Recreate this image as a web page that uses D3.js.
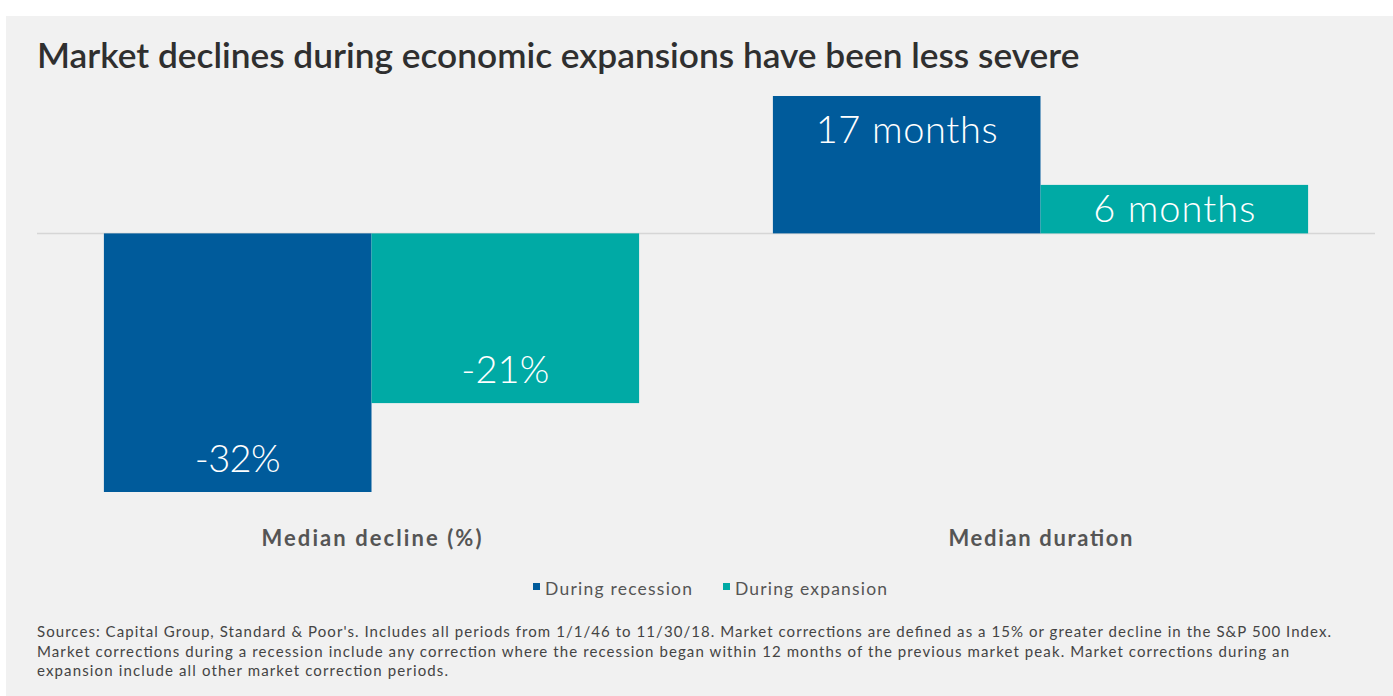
<!DOCTYPE html>
<html><head><meta charset="utf-8">
<script src="https://cdn.jsdelivr.net/npm/d3@7"></script>
<style>
html,body{margin:0;padding:0;background:#fff;}
svg{display:block;}
</style></head>
<body>
<svg id="chart" width="1393" height="696"></svg>
<script>
const title = "Market declines during economic expansions have been less severe";
const categories = ["Median decline (%)", "Median duration"];
const seriesNames = ["During recession", "During expansion"];
const recessionValues = [-32, 17];
const expansionValues = [-21, 6];
const valueLabels = [["-32%", "17 months"], ["-21%", "6 months"]];
const footnotes = [
  "Sources: Capital Group, Standard & Poor's. Includes all periods from 1/1/46 to 11/30/18. Market corrections are defined as a 15% or greater decline in the S&P 500 Index.",
  "Market corrections during a recession include any correction where the recession began within 12 months of the previous market peak. Market corrections during an",
  "expansion include all other market correction periods."
];
const colors = ["#005b9b", "#00aaa5"];

const svg = d3.select("#chart");
const font = "Lato, 'Open Sans', sans-serif";

// stretch text horizontally by spacing to a target width
function fitSpacing(sel, widthFn) {
  sel.each(function(d, i) {
    const w = widthFn(d, i);
    if (w) d3.select(this).attr("textLength", w).attr("lengthAdjust", "spacing");
  });
}

svg.append("rect").attr("x", 6).attr("y", 16).attr("width", 1393 - 6).attr("height", 696 - 16).attr("fill", "#f1f1f1");

svg.append("text").attr("x", 37).attr("y", 68).attr("font-family", font).attr("font-size", 30)
  .attr("fill", "#2f2f2f").attr("font-weight", 600).text(title)
  .each(function(){ const w = this.getComputedTextLength(); d3.select(this).attr("font-size", 30 * 1043 / w); });

const x0 = d3.scaleBand().domain(categories).range([37, 1375]).paddingInner(0.2).paddingOuter(0.1);
const x1 = d3.scaleBand().domain(seriesNames).range([0, x0.bandwidth()]);
const y = d3.scaleLinear().domain([-32, 17]).range([492, 96]);

const data = categories.map((c, i) => ({
  cat: c,
  vals: [
    {s: seriesNames[0], v: recessionValues[i], label: valueLabels[0][i], color: colors[0], w: [86, 182][i]},
    {s: seriesNames[1], v: expansionValues[i], label: valueLabels[1][i], color: colors[1], w: [88, 162][i]}
  ]
}));

// baseline
svg.append("line").attr("x1", 37).attr("x2", 1375).attr("y1", y(0)).attr("y2", y(0))
  .attr("stroke", "#d6d6d6").attr("stroke-width", 1.5);

const g = svg.selectAll("g.grp").data(data).enter().append("g")
  .attr("transform", d => `translate(${x0(d.cat)},0)`);

g.selectAll("rect").data(d => d.vals).enter().append("rect")
  .attr("x", d => x1(d.s)).attr("width", x1.bandwidth())
  .attr("y", d => Math.min(y(d.v), y(0))).attr("height", d => Math.abs(y(d.v) - y(0)))
  .attr("fill", d => d.color);

g.selectAll("text.vl").data(d => d.vals).enter().append("text").attr("class", "vl")
  .attr("x", d => x1(d.s) + x1.bandwidth() / 2)
  .attr("y", d => d.v < 0 ? y(d.v) - 20 : Math.min(y(d.v) + 47, y(0) - 11))
  .attr("text-anchor", "middle").attr("font-family", font).attr("font-weight", 300)
  .attr("font-size", 38).attr("fill", "#fff").text(d => d.label)
  .call(fitSpacing, d => d.w);

const catW = [220, 184];
svg.selectAll("text.cat").data(categories).enter().append("text").attr("class", "cat")
  .attr("x", d => x0(d) + x0.bandwidth() / 2).attr("y", 546)
  .attr("text-anchor", "middle").attr("font-family", font).attr("font-weight", 700)
  .attr("font-size", 22).attr("fill", "#555").text(d => d)
  .call(fitSpacing, (d, i) => catW[i]);

// legend
const legX = [533, 723];
const legW = [147, 152];
const leg = svg.selectAll("g.leg").data(seriesNames).enter().append("g")
  .attr("transform", (d, i) => `translate(${legX[i]},0)`);
leg.append("rect").attr("x", 0).attr("y", 583).attr("width", 7).attr("height", 7).attr("fill", (d, i) => colors[i]);
leg.append("text").attr("x", 12).attr("y", 595).attr("font-family", font).attr("font-size", 17.5)
  .attr("fill", "#555").text(d => d)
  .call(fitSpacing, (d, i) => legW[i]);

const fnW = [1294, 1252, 411];
svg.selectAll("text.fn").data(footnotes).enter().append("text").attr("class", "fn")
  .attr("x", 37).attr("y", (d, i) => 637 + i * 19.5).attr("font-family", font)
  .attr("font-size", 15).attr("fill", "#444").text(d => d)
  .call(fitSpacing, (d, i) => fnW[i]);
</script>
</body></html>
